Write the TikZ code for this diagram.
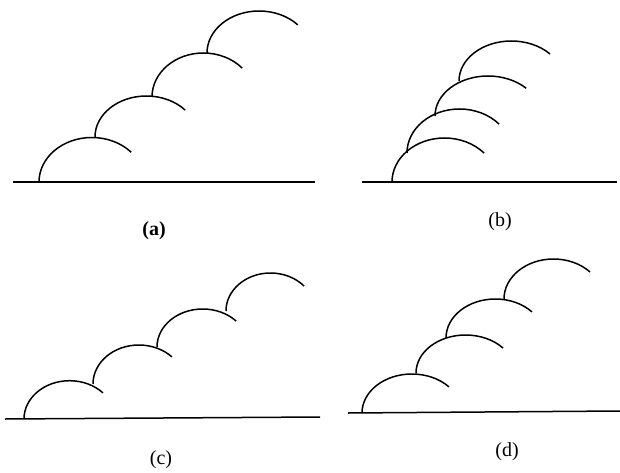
\documentclass[tikz,border=0pt]{standalone}
\usepackage{fontspec}
\setmainfont{Liberation Serif}
\newcommand\myfrond[5]{\draw[arcline] (#1,{472-#2}) arc[start angle=180,end angle=#5,x radius=#3,y radius=#4];}
\begin{document}
\begin{tikzpicture}[x=1pt,y=1pt,
  arcline/.style={line width=1.5pt},
  ground/.style={line width=1.5pt},
  lab/.style={font=\fontsize{20}{22}\selectfont, inner sep=0pt}]
\useasboundingbox (0,0) rectangle (620,472);
% (a)
\draw[ground] (13,290) -- (315,290);
\myfrond{39}{182}{52.9}{44.5}{42}
\myfrond{95}{137}{51.4}{41}{41}
\myfrond{152}{97}{51.4}{44}{41}
\myfrond{207}{53}{52.1}{42}{42}
\node[lab, font=\fontsize{20}{22}\selectfont\bfseries] (la) at (154,241) {(a)};
% (b)
\draw[ground] (362,290) -- (617,290);
\myfrond{392}{182}{52.5}{44}{41}
\myfrond{407}{153}{52.5}{44}{41}
\myfrond{435}{116}{53}{40}{44}
\myfrond{459}{81}{52.4}{40}{42.5}
\node[lab] (lb) at (500,250) {(b)};
% (c)
\draw[ground] (5,53) -- (320,55);
\myfrond{24}{419}{45.6}{38.3}{43}
\myfrond{93}{384}{45.9}{39}{44}
\myfrond{157}{347}{45.7}{38}{43}
\myfrond{226}{311}{44.5}{38}{41}
\node[lab] (lc) at (161,12) {(c)};
% (d)
\draw[ground] (348,59) -- (620,61);
\myfrond{362}{413}{49.9}{39}{42}
\myfrond{416}{373}{49.6}{38}{41}
\myfrond{446}{338}{49.3}{39}{42}
\myfrond{504}{299}{49.5}{40}{42.5}
\node[lab] (ld) at (507,20) {(d)};
\end{tikzpicture}
\end{document}
